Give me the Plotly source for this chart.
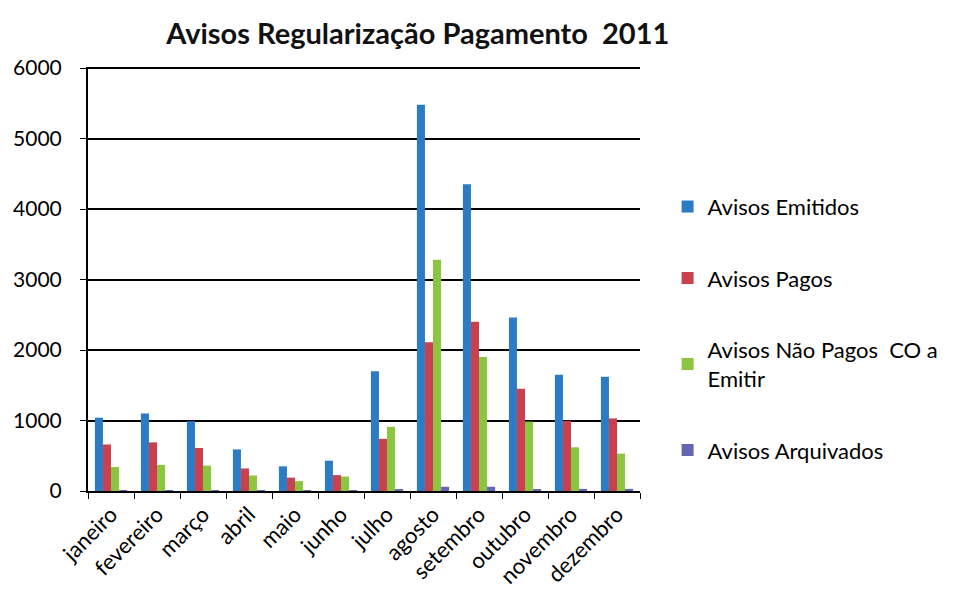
import plotly.graph_objects as go

months = ["janeiro", "fevereiro", "março", "abril", "maio", "junho",
          "julho", "agosto", "setembro", "outubro", "novembro", "dezembro"]
emitidos = [1040, 1100, 990, 590, 350, 430, 1700, 5480, 4350, 2460, 1650, 1620]
pagos = [660, 690, 610, 320, 190, 225, 740, 2110, 2400, 1450, 995, 1030]
nao_pagos = [340, 370, 360, 220, 140, 205, 910, 3280, 1900, 985, 620, 530]
arquivados = [10, 10, 10, 5, 5, 5, 20, 60, 60, 20, 30, 30]

series = [
    ("Avisos Emitidos", emitidos, "#2b7cc4"),
    ("Avisos Pagos", pagos, "#c9404f"),
    ("Avisos Não Pagos  CO a<br>Emitir", nao_pagos, "#8cc640"),
    ("Avisos Arquivados", arquivados, "#6565b3"),
]

FONT = "Lato"

fig = go.Figure()
for i, (name, vals, col) in enumerate(series):
    fig.add_trace(go.Bar(x=months, y=vals, name=name, marker_color=col,
                         marker_line_width=0, legendgroup=str(i)))

fig.update_layout(
    width=953, height=608,
    paper_bgcolor="white", plot_bgcolor="white",
    margin=dict(l=80, r=321, t=59, b=125, autoexpand=False),
    barmode="group", bargap=0.3, bargroupgap=0,
    font=dict(family=FONT, color="black", size=22),
    title=dict(text="<b>Avisos Regularização Pagamento  2011</b>",
               x=0.43, xanchor="center", y=0.957, yanchor="middle",
               font=dict(size=29, family=FONT, color="#111")),
    legend=dict(x=1.05, xanchor="left", y=0.72, yanchor="top",
                tracegroupgap=40, font=dict(size=22, family=FONT),
                itemwidth=30, traceorder="grouped"),
    showlegend=True,
)
fig.update_xaxes(showline=True, linecolor="black", linewidth=2,
                 ticks="outside", tickson="boundaries", ticklen=6,
                 tickcolor="black", tickangle=-45,
                 tickfont=dict(size=22, family=FONT))
fig.update_yaxes(range=[0, 6015], tickvals=[0, 1000, 2000, 3000, 4000, 5000, 6000],
                 showgrid=True, gridcolor="black", gridwidth=1.5,
                 showline=True, linecolor="black", linewidth=2,
                 ticks="outside", ticklen=6, tickcolor="black",
                 zeroline=False, ticklabelstandoff=14,
                 tickfont=dict(size=21, family=FONT))

fig.write_html("out.html")
